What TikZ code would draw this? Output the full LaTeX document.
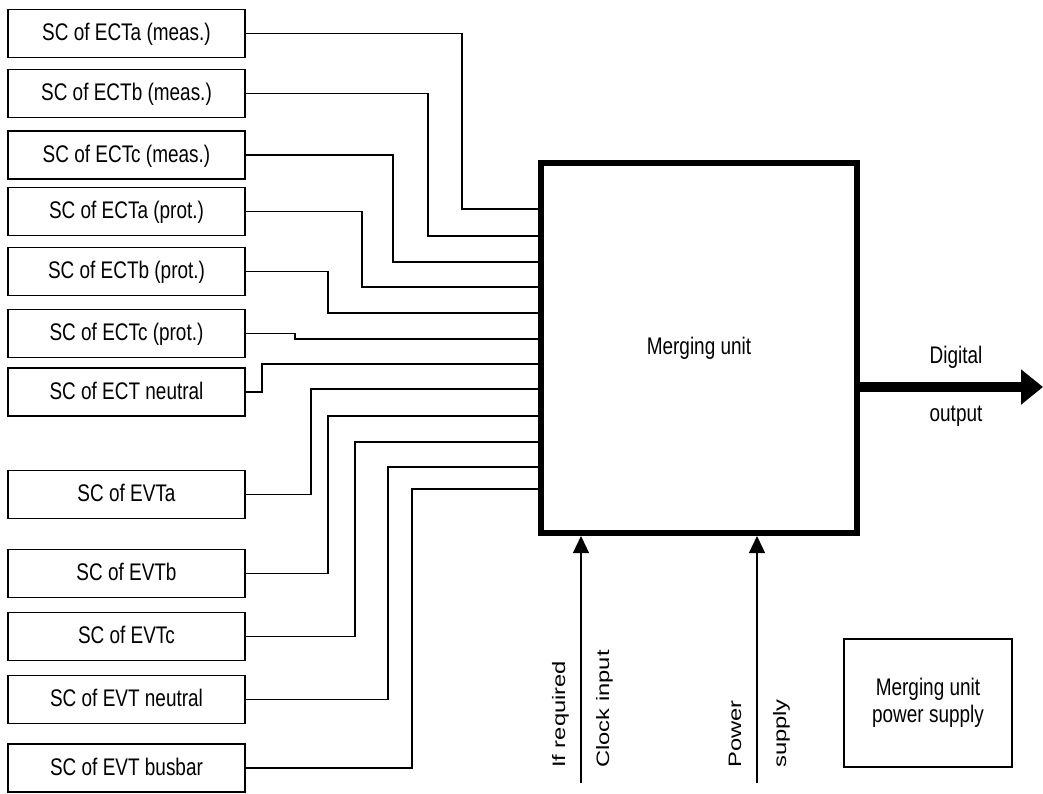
\documentclass[tikz,border=0pt]{standalone}
\usepackage{fontspec}
\setmainfont{Liberation Sans}[FakeStretch=0.79]
\newfontfamily\vertfont{Liberation Sans}[FakeStretch=1.32]
\usepackage{tikz}
\usetikzlibrary{arrows.meta, positioning}

\begin{document}
\begin{tikzpicture}[x=1pt, y=-1pt,
  scbox/.style={rectangle, draw, line width=1.4pt, minimum width=237pt,
                minimum height=48pt, text height=19pt, text depth=5pt,
                font=\fontsize{24}{27}\selectfont},
  wire/.style={line width=1.2pt},
  inarrow/.style={-{Triangle[length=17pt, width=16pt]}, line width=1.3pt},
  outarrow/.style={-{Triangle[length=22pt, width=34pt]}, line width=10pt},
  lbl/.style={font=\fontsize{24}{27}\selectfont},
  vlbl/.style={rotate=90, anchor=base west, inner sep=0pt,
               font=\vertfont\fontsize{18}{20}\selectfont}
]
  \useasboundingbox (0,0) rectangle (1043,793);

  % sensor converters
  \node[scbox] (ectam) at (126.5,33.5)  {SC of ECTa (meas.)};
  \node[scbox] (ectbm) at (126.5,93.5)  {SC of ECTb (meas.)};
  \node[scbox] (ectcm) at (126.5,155)   {SC of ECTc (meas.)};
  \node[scbox] (ectap) at (126.5,211.5) {SC of ECTa (prot.)};
  \node[scbox] (ectbp) at (126.5,271.5) {SC of ECTb (prot.)};
  \node[scbox] (ectcp) at (126.5,333.5) {SC of ECTc (prot.)};
  \node[scbox] (ectn)  at (126.5,392)   {SC of ECT neutral};
  \node[scbox] (evta)  at (126.5,494.5) {SC of EVTa};
  \node[scbox] (evtb)  at (126.5,573.5) {SC of EVTb};
  \node[scbox] (evtc)  at (126.5,636.5) {SC of EVTc};
  \node[scbox] (evtn)  at (126.5,699.5) {SC of EVT neutral};
  \node[scbox] (evtbb) at (126.5,768)   {SC of EVT busbar};

  % merging unit
  \node[draw, line width=6pt, minimum width=316pt, minimum height=370pt, lbl]
    (mu) at (699,348) {Merging unit};
  \node[draw, line width=1.4pt, minimum width=168pt, minimum height=128pt,
        align=center, lbl] (psu) at (928,703) {Merging unit\\power supply};

  \draw[wire] (ectam.east) -| (462,209) -- (mu.west |- 0,209);
  \draw[wire] (ectbm.east) -| (428,236) -- (mu.west |- 0,236);
  \draw[wire] (ectcm.east) -| (393,262) -- (mu.west |- 0,262);
  \draw[wire] (ectap.east) -| (362,287) -- (mu.west |- 0,287);
  \draw[wire] (ectbp.east) -| (328,313) -- (mu.west |- 0,313);
  \draw[wire] (ectcp.east) -| (295,339) -- (mu.west |- 0,339);
  \draw[wire] (ectn.east)  -| (262,364) -- (mu.west |- 0,364);
  \draw[wire] (evta.east)  -| (311,389) -- (mu.west |- 0,389);
  \draw[wire] (evtb.east)  -| (328,416) -- (mu.west |- 0,416);
  \draw[wire] (evtc.east)  -| (355,442) -- (mu.west |- 0,442);
  \draw[wire] (evtn.east)  -| (388,467) -- (mu.west |- 0,467);
  \draw[wire] (evtbb.east) -| (412,489) -- (mu.west |- 0,489);

  % digital output
  \coordinate (tip) at (1043,387);
  \draw[outarrow] (mu.east |- tip) -- (tip);
  \node[lbl, anchor=base] (dig) at (956,363) {Digital};
  \node[lbl, anchor=base] (outp) at (956,421) {output};

  % clock and supply inputs
  \coordinate (clkfoot) at (581,783);
  \coordinate (pwrfoot) at (757,783);
  \draw[inarrow] (clkfoot) -- (clkfoot |- mu.south);
  \draw[inarrow] (pwrfoot) -- (pwrfoot |- mu.south);
  \node[vlbl] (ifreq) at (565,768) {If required};
  \node[vlbl] (clk)   at (609,768) {Clock input};
  \node[vlbl] (pwr)   at (741,768) {Power};
  \node[vlbl] (sup)   at (786,768) {supply};
\end{tikzpicture}
\end{document}
